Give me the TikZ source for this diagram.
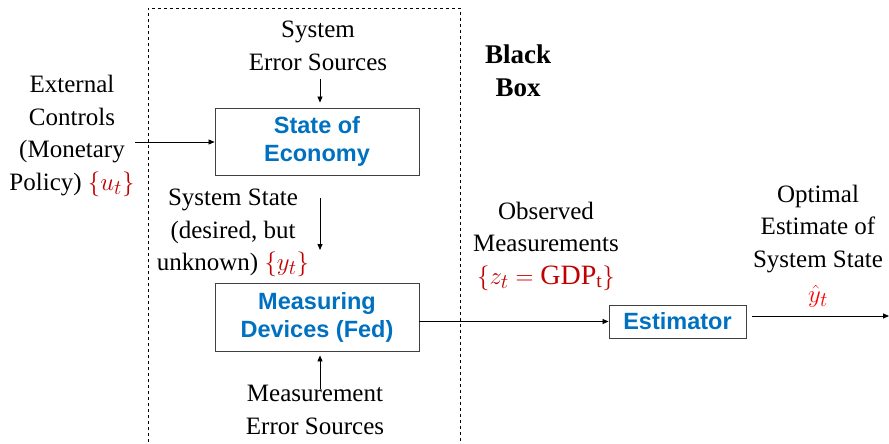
\documentclass[tikz,border=0pt]{standalone}
\usepackage{fontspec}
\setmainfont{Liberation Serif}
\newfontfamily\boxfont{Liberation Sans}
\usetikzlibrary{arrows.meta}
\definecolor{boxblue}{HTML}{0070C0}
\definecolor{darkred}{HTML}{C00000}
\newcommand{\mathlarge}[1]{{\fontsize{28}{32.5}\selectfont #1}}
\begin{document}
\begin{tikzpicture}[x=1pt,y=-1pt,
  lbl/.style={align=center,font=\fontsize{25}{32.5}\selectfont,inner sep=0pt},
  blk/.style={draw=black!75,line width=0.9pt,inner sep=0pt,align=center,text=boxblue,font=\boxfont\bfseries\fontsize{23.5}{28}\selectfont},
  arr/.style={-{Triangle[length=6pt,width=5pt]},line width=0.8pt}]
\useasboundingbox (0,0) rectangle (889,444);
\draw[dashed,line width=0.8pt] (148,448) -- (148,8) -- (460,8) -- (460,448);
% boxes
\node[blk,minimum width=204pt,minimum height=67pt] (soe) at (317,141.5) {State of\\Economy};
\node[blk,minimum width=204pt,minimum height=68pt] (mdf) at (317,317) {Measuring\\Devices (Fed)};
\node[blk,minimum width=137pt,minimum height=33pt] (est) at (677.5,321.5) {Estimator};
% labels
\node[lbl] (ses) at (318,46) {System\\Error Sources};
\node[lbl] (ext) at (72,136) {External\\Controls\\(Monetary\\Policy) \textcolor{darkred}{\mathlarge{$\{u_t\}$}}};
\node[lbl] (sst) at (233,233) {System State\\(desired, but\\unknown) \textcolor{darkred}{\mathlarge{$\{y_t\}$}}};
\node[lbl] (mes) at (315,410) {Measurement\\Error Sources};
\node[lbl] (obs) at (546,246) {Observed\\Measurements\\\textcolor{darkred}{\mathlarge{$\{z_t=\mathrm{GDP}_{\mathrm{t}}\}$}}};
\node[lbl] (opt) at (818,229) {Optimal\\Estimate of\\System State};
\node[lbl,anchor=north,text=red] (yh) at (818,285) {\mathlarge{$\hat{y}_t$}};
\node[lbl,font=\bfseries\fontsize{27}{33}\selectfont] (bb) at (518,71) {Black\\Box};
% coordinates
\coordinate (a1) at (320,79);
\coordinate (a2) at (135,142);
\coordinate (a3) at (320,198);
\coordinate (a4) at (320,250);
\coordinate (a5) at (320,389);
\coordinate (a6) at (889,316);
% arrows
\draw[arr] (a1) -- ([yshift=5pt]a1 |- soe.north);
\draw[arr] (a2) -- (soe.west |- a2);
\draw[arr] (a3) -- (a4);
\draw[arr] (a5) -- ([yshift=-4pt]a5 |- mdf.south);
\draw[arr] (mdf.east |- est) -- (est.west);
\draw[arr] ([xshift=6pt]est.east |- a6) -- (a6);
\end{tikzpicture}
\end{document}
